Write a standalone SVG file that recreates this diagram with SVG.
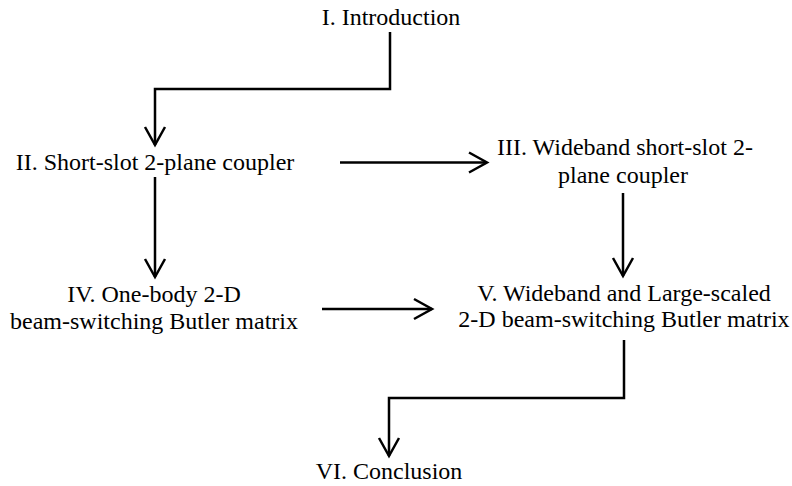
<svg xmlns="http://www.w3.org/2000/svg" width="792" height="486" viewBox="0 0 792 486">
  <style>
    .t { font-family: "Liberation Serif", "Times New Roman", serif; font-size: 24px; fill: #000; text-anchor: middle; }
    .c { fill: none; stroke: #000; stroke-width: 2.5; stroke-linejoin: miter; }
  </style>
  <defs>
    <marker id="arr" markerUnits="userSpaceOnUse" viewBox="-22 -13 26 26" markerWidth="26" markerHeight="26" refX="0" refY="0" orient="auto">
      <path d="M-18,-10 L0,0 L-18,10" fill="none" stroke="#000" stroke-width="2.5"/>
    </marker>
  </defs>
  <rect width="792" height="486" fill="#fff"/>
  <g id="n1"><text class="t" x="391" y="25">I. Introduction</text></g>
  <g id="n2"><text class="t" x="155" y="170">II. Short-slot 2-plane coupler</text></g>
  <g id="n3">
    <text class="t" x="625" y="155">III. Wideband short-slot 2-</text>
    <text class="t" x="623" y="183">plane coupler</text>
  </g>
  <g id="n4">
    <text class="t" x="154" y="302">IV. One-body 2-D</text>
    <text class="t" x="154" y="329">beam-switching Butler matrix</text>
  </g>
  <g id="n5">
    <text class="t" x="624" y="301">V. Wideband and Large-scaled</text>
    <text class="t" x="624" y="327">2-D beam-switching Butler matrix</text>
  </g>
  <g id="n6"><text class="t" x="389" y="479">VI. Conclusion</text></g>
  <g id="connectors">
    <path class="c" d="M390,32 V89 H155 V145" marker-end="url(#arr)"/>
    <path class="c" d="M340,162.5 H487" marker-end="url(#arr)"/>
    <path class="c" d="M155,177 V277" marker-end="url(#arr)"/>
    <path class="c" d="M623,193 V276" marker-end="url(#arr)"/>
    <path class="c" d="M322,309 H432" marker-end="url(#arr)"/>
    <path class="c" d="M624,340 V398 H389 V456" marker-end="url(#arr)"/>
  </g>
</svg>
